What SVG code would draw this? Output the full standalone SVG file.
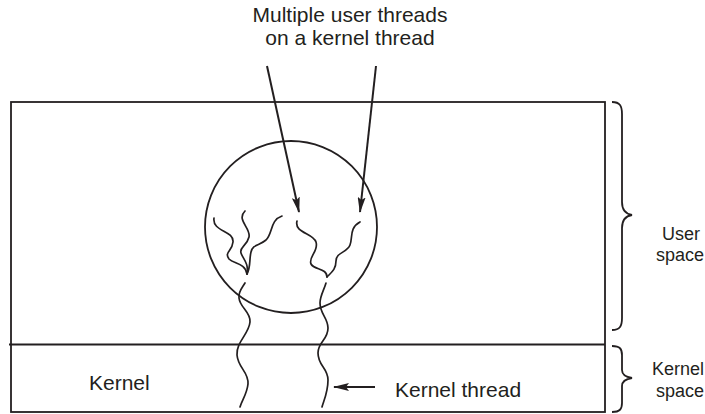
<svg xmlns="http://www.w3.org/2000/svg" width="705" height="414" viewBox="0 0 705 414">
  <style>
    .ln { fill: none; stroke: #231f20; stroke-width: 1.8; }
    .th { fill: none; stroke: #231f20; stroke-width: 1.7; stroke-linecap: round; }
    .ar { fill: none; stroke: #231f20; stroke-width: 2; }
    .tx { font-family: "Liberation Sans", Arial, sans-serif; font-size: 21px; fill: #231f20; }
    .sm { font-family: "Liberation Sans", Arial, sans-serif; font-size: 18px; fill: #231f20; }
  </style>
  <defs>
    <marker id="ah" viewBox="0 0 16 8" refX="15" refY="4" markerWidth="16" markerHeight="8" markerUnits="userSpaceOnUse" orient="auto">
      <path d="M0,0 L16,4 L0,8 L3,4 z" fill="#231f20"/>
    </marker>
  </defs>
  <rect width="705" height="414" fill="#ffffff"/>

  <g id="process-box">
    <rect class="ln" x="11" y="102" width="594" height="310"/>
    <line class="ln" x1="9" y1="344.5" x2="605" y2="344.5"/>
  </g>

  <g id="process-circle">
    <circle class="ln" cx="291" cy="227" r="86"/>
  </g>

  <g id="user-threads">
    <path class="th" d="M214,218 C212,232 234,230 233,242 C232,252 224,252 229,259 C234,264 245,263 247,274"/>
    <path class="th" d="M245,211 C236,220 251,228 249,237 C247,246 239,247 241,253 C243,259 249,263 247,274"/>
    <path class="th" d="M282,216 C270,220 273,233 266,240 C259,246 253,244 251,252 C249,260 251,266 247,274"/>
    <path class="th" d="M297,221 C294,233 313,233 316,242 C319,251 308,257 311,264 C314,270 327,268 327,277"/>
    <path class="th" d="M360,222 C349,228 353,237 350,245 C347,253 336,252 336,261 C336,269 332,272 327,277"/>
  </g>

  <g id="kernel-threads">
    <path class="th" d="M245,283 C242,288 238,292 239,298 C240,308 251,312 250,322 C249,334 236,342 237,355 C238,368 249,372 248,384 C247,394 242,400 240,407"/>
    <path class="th" d="M326,283 C324,290 320,296 320,303 C320,314 328,318 328,328 C328,340 318,342 318,353 C318,366 328,368 328,380 C328,392 324,400 322,407"/>
  </g>

  <g id="braces">
    <path class="ln" stroke-width="1.3" d="M612,102 C620,102 622,106 622,114 L622,202 C622,210 626,214 632,215 C626,216 622,220 622,228 L622,318 C622,326 620,330 612,330"/>
    <path class="ln" stroke-width="1.3" d="M612,346 C620,346 622,349 622,355 L622,370 C622,374 626,377 632,378 C626,379 622,382 622,386 L622,403 C622,409 620,412 612,412"/>
  </g>

  <g id="connectors">
    <line class="ar" x1="267" y1="66" x2="299" y2="212" marker-end="url(#ah)"/>
    <line class="ar" x1="376" y1="66" x2="360" y2="212" marker-end="url(#ah)"/>
    <line class="ar" x1="375" y1="387" x2="334" y2="387" marker-end="url(#ah)"/>
  </g>

  <g id="labels">
    <text class="tx" x="350" y="22" text-anchor="middle">Multiple user threads</text>
    <text class="tx" x="350" y="45" text-anchor="middle">on a kernel thread</text>
    <text class="tx" x="89" y="390">Kernel</text>
    <text class="tx" x="395" y="397">Kernel thread</text>
    <text class="sm" x="681" y="240" text-anchor="middle">User</text>
    <text class="sm" x="704" y="261" text-anchor="end">space</text>
    <text class="sm" x="704" y="375" text-anchor="end">Kernel</text>
    <text class="sm" x="704" y="397" text-anchor="end">space</text>
  </g>
</svg>
